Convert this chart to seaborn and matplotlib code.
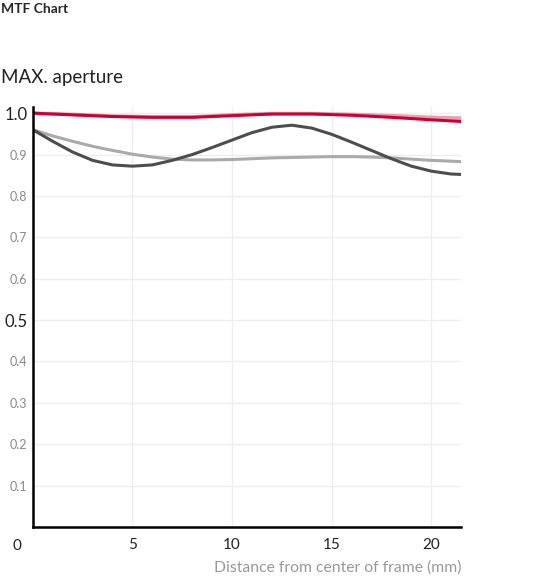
import numpy as np
import pandas as pd
import seaborn as sns
import matplotlib.pyplot as plt

x_full = [0, 1, 2, 3, 4, 5, 6, 7, 8, 9, 10, 11, 12, 13, 14, 15, 16, 17, 18, 19, 20, 21, 21.5]
dark_gray = [0.96, 0.932, 0.906, 0.886, 0.875, 0.872, 0.875, 0.886, 0.90, 0.917, 0.935, 0.953,
             0.966, 0.971, 0.964, 0.949, 0.93, 0.91, 0.89, 0.872, 0.86, 0.853, 0.852]
light_gray = [0.96, 0.945, 0.932, 0.92, 0.91, 0.901, 0.894, 0.889, 0.887, 0.887, 0.888, 0.89,
              0.892, 0.893, 0.894, 0.895, 0.895, 0.894, 0.892, 0.889, 0.886, 0.884, 0.883]
x_red = [0, 2, 4, 6, 8, 10, 12, 14, 16, 18, 20, 21.5]
red_dark = [1.0, 0.996, 0.992, 0.99, 0.99, 0.994, 0.998, 0.998, 0.995, 0.99, 0.984, 0.98]
red_light = [1.0, 0.997, 0.993, 0.991, 0.991, 0.996, 0.999, 0.999, 0.997, 0.994, 0.99, 0.988]

sns.set_style("white")
plt.rcParams['font.family'] = ['Lato', 'DejaVu Sans']

fig = plt.figure(figsize=(5.47, 5.83), dpi=100)
ax = fig.add_axes([0.060, 0.096, 0.783, 0.7205])

sns.lineplot(x=x_full, y=light_gray, ax=ax, color='#aaaaaa', lw=2.2)
sns.lineplot(x=x_full, y=dark_gray, ax=ax, color='#4d4d4d', lw=2.2)
sns.lineplot(x=x_red, y=red_light, ax=ax, color='#e8869c', lw=2.6, alpha=0.8)
sns.lineplot(x=x_red, y=red_dark, ax=ax, color='#cc0033', lw=2.2)

ax.set_xlim(0, 21.5)
ax.set_ylim(0, 1.015)
ax.set_xticks([0, 5, 10, 15, 20])
ax.set_yticks(np.arange(0.1, 1.01, 0.1))
ax.set_yticklabels([f"{v:.1f}" for v in np.arange(0.1, 1.01, 0.1)])
for lbl in ax.get_yticklabels():
    if lbl.get_text() in ('0.5', '1.0'):
        lbl.set_fontsize(12); lbl.set_color('#222222')
    else:
        lbl.set_fontsize(9); lbl.set_color('#888888')
ax.tick_params(axis='x', labelsize=11, labelcolor='#222222', length=0, pad=8)
ax.tick_params(axis='y', length=0, pad=4)
ax.text(-0.8, -0.045, '0', fontsize=11, color='#222222', ha='center', va='center',
        transform=ax.transData)
ax.get_xticklabels()[0].set_visible(False)
ax.grid(True, color='#eeeeee', lw=1)
ax.set_axisbelow(True)
for s in ['top', 'right']:
    ax.spines[s].set_visible(False)
for s in ['left', 'bottom']:
    ax.spines[s].set_color('black'); ax.spines[s].set_linewidth(1.8)
ax.set_xlabel('Distance from center of frame (mm)', fontsize=11.3, color='#999999')
ax.xaxis.set_label_coords(1.0, -0.08)
ax.xaxis.label.set_ha('right')

fig.text(0.002, 0.995, 'MTF Chart', fontsize=10, fontweight='bold', va='top')
fig.text(0.002, 0.867, 'MAX. aperture', fontsize=13.5, color='#222222', va='center')

fig.savefig('out.png', dpi=100)
